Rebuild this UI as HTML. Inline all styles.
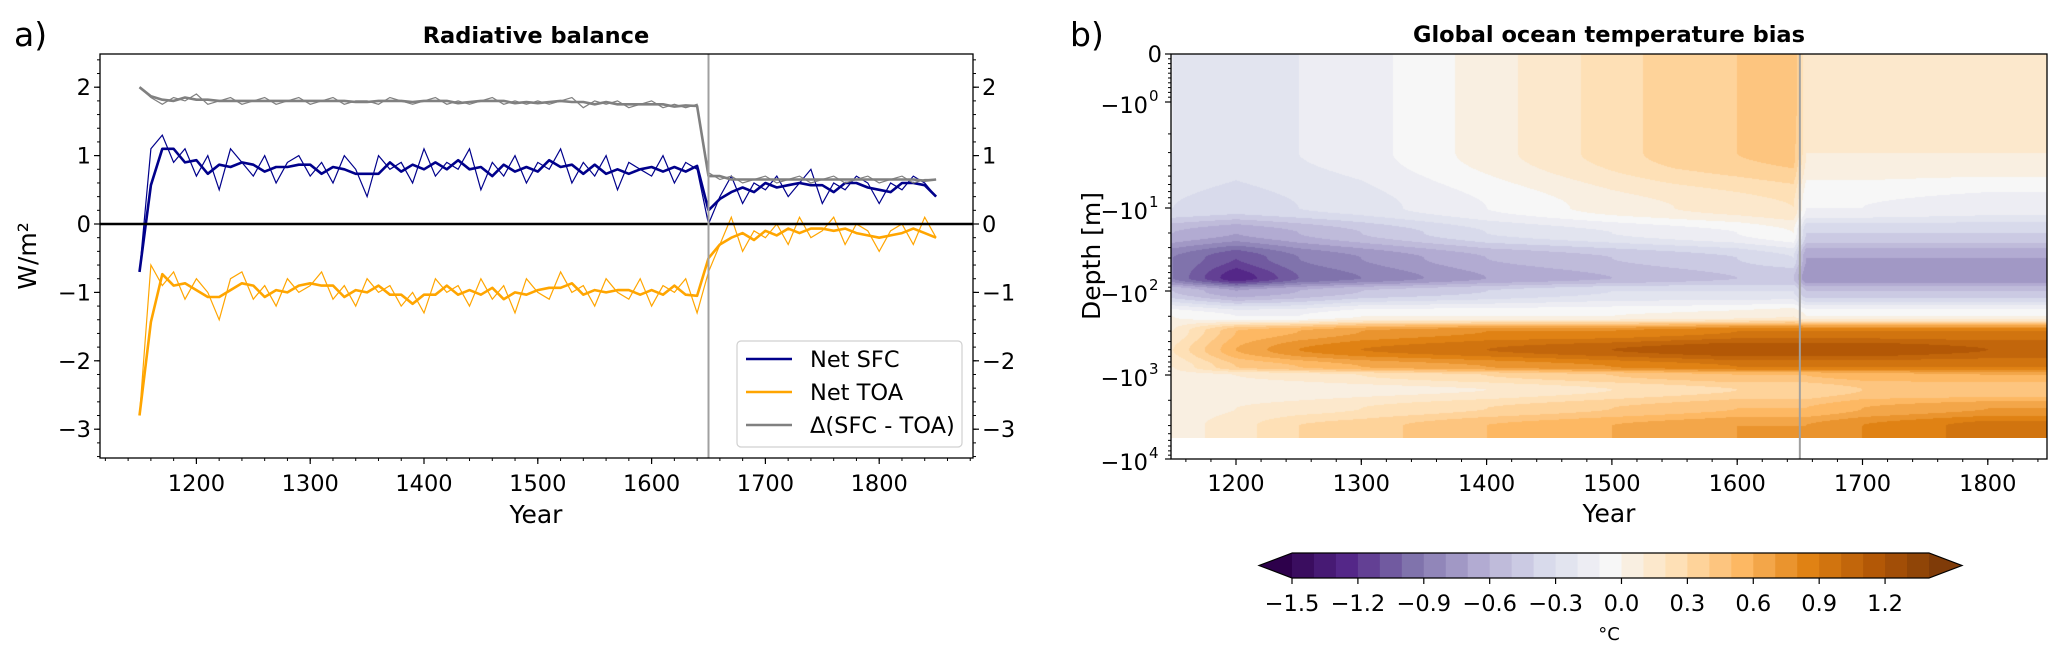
<!DOCTYPE html>
<html><head><meta charset="utf-8">
<style>
html,body{margin:0;padding:0;background:#fff;}
#wrap{position:relative;width:2067px;height:658px;overflow:hidden;font-family:"DejaVu Sans","Liberation Sans",sans-serif;}
svg{position:absolute;left:0;top:0;}
canvas{position:absolute;}
text{font-family:"DejaVu Sans","Liberation Sans",sans-serif;}
</style></head>
<body>
<div id="wrap">
<canvas id="heat"></canvas>
<svg id="svg" width="2067" height="658"></svg>
</div>
<script>
// ---------- Panel a data ----------
const years = [1150,1160,1170,1180,1190,1200,1210,1220,1230,1240,1250,1260,1270,1280,1290,1300,1310,1320,1330,1340,1350,1360,1370,1380,1390,1400,1410,1420,1430,1440,1450,1460,1470,1480,1490,1500,1510,1520,1530,1540,1550,1560,1570,1580,1590,1600,1610,1620,1630,1640,1650,1660,1670,1680,1690,1700,1710,1720,1730,1740,1750,1760,1770,1780,1790,1800,1810,1820,1830,1840,1850];
const netSFC = [-0.7,1.1,1.3,0.9,1.1,0.7,1.0,0.5,1.1,0.9,0.7,1.0,0.6,0.9,1.0,0.7,0.9,0.6,1.0,0.8,0.4,1.0,0.8,0.9,0.6,1.1,0.7,0.9,0.8,1.1,0.5,0.9,0.7,1.0,0.6,0.9,0.8,1.1,0.6,0.9,0.7,1.0,0.5,0.9,0.8,0.7,1.0,0.6,0.9,0.8,0.0,0.4,0.7,0.3,0.6,0.5,0.7,0.4,0.6,0.8,0.3,0.6,0.5,0.7,0.6,0.3,0.6,0.5,0.7,0.6,0.4];
const netTOA = [-2.8,-0.6,-0.9,-0.7,-1.1,-0.8,-1.0,-1.4,-0.8,-0.7,-1.1,-0.9,-1.2,-0.8,-1.0,-0.9,-0.7,-1.1,-0.9,-1.2,-0.8,-1.0,-0.9,-1.2,-1.0,-1.3,-0.8,-1.0,-0.9,-1.2,-0.8,-1.1,-0.9,-1.3,-0.8,-1.0,-1.1,-0.7,-1.0,-0.9,-1.2,-0.8,-1.0,-1.1,-0.8,-1.2,-0.9,-1.0,-0.8,-1.3,-0.7,-0.3,0.1,-0.4,-0.1,-0.2,0.0,-0.3,0.1,-0.2,-0.1,0.1,-0.3,0.0,-0.1,-0.4,-0.1,0.0,-0.3,0.1,-0.2];
const deltaST = [2.0,1.85,1.75,1.85,1.8,1.9,1.75,1.8,1.85,1.75,1.8,1.85,1.75,1.8,1.85,1.75,1.8,1.85,1.75,1.8,1.8,1.75,1.85,1.8,1.75,1.8,1.85,1.75,1.8,1.75,1.8,1.85,1.75,1.8,1.75,1.8,1.75,1.8,1.85,1.7,1.8,1.75,1.8,1.7,1.75,1.8,1.7,1.75,1.7,1.75,0.75,0.65,0.7,0.6,0.65,0.7,0.6,0.65,0.7,0.6,0.65,0.7,0.6,0.65,0.7,0.6,0.65,0.7,0.6,0.65,0.65];
const aYTicks = [-3,-2,-1,0,1,2];
const aXTicks = [1200,1300,1400,1500,1600,1700,1800];

// ---------- Panel b data ----------
const bYears = [1150,1200,1250,1300,1400,1500,1550,1600,1645,1655,1700,1800,1850];
const bDepths = [0.5,1,3,10,20,40,70,100,200,300,500,800,1000,1500,2500,4000,5600];
const bias = [
 [-0.2,-0.25,-0.2,-0.15,0.05,0.25,0.35,0.4,0.5,0.1,0.1,0.1,0.1],
 [-0.2,-0.25,-0.2,-0.15,0.05,0.25,0.35,0.4,0.5,0.1,0.1,0.1,0.1],
 [-0.2,-0.25,-0.2,-0.15,0.05,0.25,0.35,0.4,0.45,0.1,0.1,0.1,0.1],
 [-0.3,-0.35,-0.3,-0.25,-0.1,0.05,0.1,0.15,0.2,-0.1,-0.1,-0.15,-0.15],
 [-0.6,-0.7,-0.6,-0.5,-0.3,-0.2,-0.15,-0.1,0.0,-0.4,-0.4,-0.4,-0.4],
 [-0.9,-1.1,-0.9,-0.8,-0.6,-0.5,-0.45,-0.4,-0.3,-0.7,-0.7,-0.7,-0.7],
 [-0.9,-1.3,-1.0,-0.9,-0.7,-0.6,-0.55,-0.5,-0.5,-0.8,-0.8,-0.8,-0.8],
 [-0.5,-0.7,-0.6,-0.5,-0.4,-0.3,-0.3,-0.3,-0.3,-0.5,-0.5,-0.5,-0.5],
 [0.0,-0.1,-0.1,0.0,0.0,0.0,0.02,0.05,0.1,0.0,0.0,0.0,0.0],
 [0.1,0.5,0.6,0.7,0.8,0.8,0.85,0.9,0.9,0.9,0.9,0.9,0.9],
 [0.2,0.6,0.8,0.9,1.0,1.1,1.15,1.2,1.2,1.2,1.2,1.1,1.1],
 [0.1,0.4,0.5,0.6,0.7,0.8,0.85,0.9,0.9,0.9,0.9,0.9,0.9],
 [0.05,0.1,0.15,0.2,0.3,0.4,0.45,0.5,0.5,0.5,0.55,0.6,0.6],
 [0.0,0.0,0.02,0.05,0.1,0.2,0.25,0.3,0.3,0.3,0.4,0.4,0.4],
 [0.05,0.1,0.15,0.2,0.3,0.4,0.45,0.5,0.5,0.5,0.6,0.7,0.7],
 [0.05,0.15,0.3,0.35,0.5,0.6,0.65,0.7,0.7,0.7,0.8,0.95,0.95],
 [0.05,0.15,0.3,0.35,0.5,0.6,0.65,0.7,0.7,0.7,0.8,0.95,0.95]
];
const cbTicks = [-1.5,-1.2,-0.9,-0.6,-0.3,0.0,0.3,0.6,0.9,1.2];
const bXTicks = [1200,1300,1400,1500,1600,1700,1800];

const NS='http://www.w3.org/2000/svg';
const svg=document.getElementById('svg');
function el(tag,attrs,parent){const e=document.createElementNS(NS,tag);for(const k in attrs)e.setAttribute(k,attrs[k]);(parent||svg).appendChild(e);return e;}
function txt(s,x,y,attrs,parent){const t=el('text',Object.assign({x:x,y:y},attrs),parent);t.textContent=s;return t;}
const FS=22.5;

// ---------- Panel a ----------
const A={l:100,r:973,t:54,b:458};
const ax=y=>196.4+(y-1200)*1.138;
const ay=v=>224-v*68.4;
const gA=el('g',{});


const cp=el('clipPath',{id:'clipA'},gA);
el('rect',{x:A.l,y:A.t,width:A.r-A.l,height:A.b-A.t},cp);
function pathOf(arr){return arr.map((v,i)=>(i?'L':'M')+ax(years[i]).toFixed(1)+','+ay(v).toFixed(1)).join('');}
function smooth(arr){return arr.map((v,i)=>{if(i===0||i===arr.length-1)return v;if(i===50)return (arr[i]+arr[i+1])/2;if(i===49)return (arr[i-1]+arr[i])/2;return (arr[i-1]+arr[i]+arr[i+1])/3;});}
const series=[{d:netSFC,c:'#00008b',n:'net-sfc'},{d:netTOA,c:'#ffa500',n:'net-toa'},{d:deltaST,c:'#808080',n:'delta-sfc-toa'}];
const sg=el('g',{'clip-path':'url(#clipA)'},gA);
series.forEach(s=>{
  const p1=el('path',{d:pathOf(s.d),fill:'none',stroke:s.c,'stroke-width':1.2},sg);
  
  
  const p2=el('path',{d:pathOf(smooth(s.d)),fill:'none',stroke:s.c,'stroke-width':2.6,'stroke-linejoin':'round'},sg);
  
  
});
const zl=el('line',{x1:A.l,x2:A.r,y1:ay(0),y2:ay(0),stroke:'#000','stroke-width':2.5},gA);


const vl=el('line',{x1:ax(1650),x2:ax(1650),y1:A.t,y2:A.b,stroke:'#a0a0a0','stroke-width':2},gA);


el('rect',{x:A.l,y:A.t,width:A.r-A.l,height:A.b-A.t,fill:'none',stroke:'#000','stroke-width':1.3},gA);
for(let v=-3.4;v<=2.41;v+=0.2){const y=ay(v);if(y<A.t||y>A.b)continue;el('line',{x1:A.l-3,x2:A.l,y1:y,y2:y,stroke:'#000'},gA);el('line',{x1:A.r,x2:A.r+3,y1:y,y2:y,stroke:'#000'},gA);}
aYTicks.forEach(v=>{const y=ay(v);el('line',{x1:A.l-6,x2:A.l,y1:y,y2:y,stroke:'#000','stroke-width':1.2},gA);el('line',{x1:A.r,x2:A.r+6,y1:y,y2:y,stroke:'#000','stroke-width':1.2},gA);
 const lab=v<0?'\u2212'+Math.abs(v):String(v);
 const t1=txt(lab,A.l-9,y+8,{'font-size':FS,'text-anchor':'end'},gA);
 const t2=txt(lab,A.r+9,y+8,{'font-size':FS},gA);});
for(let yr=1120;yr<=1880;yr+=20){el('line',{x1:ax(yr),x2:ax(yr),y1:A.b,y2:A.b+3,stroke:'#000'},gA);}
aXTicks.forEach(yr=>{el('line',{x1:ax(yr),x2:ax(yr),y1:A.b,y2:A.b+6,stroke:'#000','stroke-width':1.2},gA);
 const t=txt(String(yr),ax(yr),A.b+33,{'font-size':FS,'text-anchor':'middle'},gA);});
let t;
t=txt('Year',536,523,{'font-size':25,'text-anchor':'middle'},gA);
t=txt('W/m²',0,0,{'font-size':25,'text-anchor':'middle',transform:'translate(36,256) rotate(-90)'},gA);
t=txt('Radiative balance',536,43,{'font-size':22.5,'font-weight':'bold','text-anchor':'middle'},gA);
t=txt('a)',14,46,{'font-size':33},gA);
// legend
const lg=el('g',{},gA);


el('rect',{x:737,y:341,width:225,height:106,rx:4,fill:'#fff','fill-opacity':0.85,stroke:'#d0d0d0','stroke-width':1.2},lg);
[['Net SFC','#00008b',359],['Net TOA','#ffa500',392],['Δ(SFC - TOA)','#808080',425]].forEach(e=>{
 const g=el('g',{},lg);
 el('line',{x1:746,x2:792,y1:e[2],y2:e[2],stroke:e[1],'stroke-width':2.6},g);
 txt(e[0],810,e[2]+8,{'font-size':FS},g);
});

// ---------- Panel b ----------
const B={l:1171,r:2047,t:54,b:459};
const bx=y=>1236+(y-1200)*1.253;
const decY=[[1,102],[10,208],[100,291],[1000,375],[10000,459]];
function by(d){if(d<=1)return 54+d*48;const L=Math.log10(d);const i=Math.min(3,Math.floor(L));return decY[i][1]+(L-i)*(decY[i+1][1]-decY[i][1]);}
const pu=['#2d004b','#542788','#8073ac','#b2abd2','#d8daeb','#f7f7f7','#fee0b6','#fdb863','#e08214','#b35806','#7f3b08'];
function hex(h){return [1,3,5].map(i=>parseInt(h.substr(i,2),16));}
const puRGB=pu.map(hex);
function cmap(f){f=Math.max(0,Math.min(1,f))*10;const i=Math.min(9,Math.floor(f)),r=f-i;return puRGB[i].map((c,k)=>Math.round(c+(puRGB[i+1][k]-c)*r));}
const NB=31;
const bandCol=[];for(let i=0;i<NB;i++)bandCol.push(cmap(i/(NB-1)));
function bandOf(v){let k=Math.floor((v+1.5)/0.1+1e-9);k=Math.max(-1,Math.min(29,k));return bandCol[k+1];}
const cv=document.getElementById('heat');
const dataBottom=by(5600);
cv.style.left=B.l+'px';cv.style.top=B.t+'px';cv.width=B.r-B.l;cv.height=Math.round(dataBottom-B.t);
const ctx=cv.getContext('2d');const img=ctx.createImageData(cv.width,cv.height);
const rowY=bDepths.map(by);
for(let py=0;py<cv.height;py++){
 const Y=B.t+py+0.5;let j=0;while(j<rowY.length-2&&rowY[j+1]<Y)j++;
 let ry=(Y-rowY[j])/(rowY[j+1]-rowY[j]);ry=Math.max(0,Math.min(1,ry));
 ry=ry*ry*(3-2*ry);
 for(let px=0;px<cv.width;px++){
  const yr=1200+(B.l+px+0.5-1236)/1.253;let i=0;while(i<bYears.length-2&&bYears[i+1]<yr)i++;
  let rx=(yr-bYears[i])/(bYears[i+1]-bYears[i]);rx=Math.max(0,Math.min(1,rx));
  const v=(bias[j][i]*(1-rx)+bias[j][i+1]*rx)*(1-ry)+(bias[j+1][i]*(1-rx)+bias[j+1][i+1]*rx)*ry;
  const c=bandOf(v);const o=(py*cv.width+px)*4;img.data[o]=c[0];img.data[o+1]=c[1];img.data[o+2]=c[2];img.data[o+3]=255;
 }
}
ctx.putImageData(img,0,0);
const gB=el('g',{});


const vl2=el('line',{x1:bx(1650),x2:bx(1650),y1:B.t,y2:B.b,stroke:'#a0a0a0','stroke-width':2},gB);


el('rect',{x:B.l,y:B.t,width:B.r-B.l,height:B.b-B.t,fill:'none',stroke:'#000','stroke-width':1.3},gB);
for(let d=0.1;d<1;d+=0.1){const y=by(d);el('line',{x1:B.l-3,x2:B.l,y1:y,y2:y,stroke:'#000'},gB);}
for(let e=0;e<4;e++)for(let m=2;m<10;m++){const y=by(m*Math.pow(10,e));el('line',{x1:B.l-3,x2:B.l,y1:y,y2:y,stroke:'#000'},gB);}
const yl=[['0',0],['\u221210','0'],['\u221210','1'],['\u221210','2'],['\u221210','3'],['\u221210','4']];
[54,102,208,291,375,459].forEach((y,i)=>{el('line',{x1:B.l-6,x2:B.l,y1:y,y2:y,stroke:'#000','stroke-width':1.2},gB);
 const tt=txt(yl[i][0],B.l-(i?23:9),y+(i?11:8),{'font-size':FS,'text-anchor':'end'},gB);
 
 if(i){const s=txt(yl[i][1],B.l-22,y-1,{'font-size':15},gB);}
});
for(let yr=1160;yr<=1840;yr+=20){el('line',{x1:bx(yr),x2:bx(yr),y1:B.b,y2:B.b+3,stroke:'#000'},gB);}
bXTicks.forEach(yr=>{el('line',{x1:bx(yr),x2:bx(yr),y1:B.b,y2:B.b+6,stroke:'#000','stroke-width':1.2},gB);
 const tt=txt(String(yr),bx(yr),B.b+32,{'font-size':FS,'text-anchor':'middle'},gB);});
t=txt('Year',1609,522,{'font-size':25,'text-anchor':'middle'},gB);
t=txt('Depth [m]',0,0,{'font-size':25,'text-anchor':'middle',transform:'translate(1100,256) rotate(-90)'},gB);
t=txt('Global ocean temperature bias',1609,42,{'font-size':22.5,'font-weight':'bold','text-anchor':'middle'},gB);
t=txt('b)',1070,46,{'font-size':33},gB);
// colorbar
const cb=el('g',{});


const cL=1292,cR=1929,cT=553,cBt=578,bw=(cR-cL)/29;
const cx=v=>cL+(v+1.5)/0.1*bw;
const rgb=c=>'rgb('+c.join(',')+')';
for(let k=0;k<29;k++){const r=el('rect',{x:cL+k*bw,y:cT,width:bw+0.6,height:cBt-cT,fill:rgb(bandCol[k+1])},cb);}
el('polygon',{points:`${cL},${cT} ${cL-33},${(cT+cBt)/2} ${cL},${cBt}`,fill:rgb(bandCol[0])},cb);
el('polygon',{points:`${cR},${cT} ${cR+33},${(cT+cBt)/2} ${cR},${cBt}`,fill:rgb(bandCol[30])},cb);
el('polygon',{points:`${cL},${cT} ${cL-33},${(cT+cBt)/2} ${cL},${cBt} ${cR},${cBt} ${cR+33},${(cT+cBt)/2} ${cR},${cT}`,fill:'none',stroke:'#000','stroke-width':1.2},cb);
cbTicks.forEach(v=>{const x=cx(v);el('line',{x1:x,x2:x,y1:cBt,y2:cBt+6,stroke:'#000','stroke-width':1.2},cb);
 const lab=(v<0?'\u2212':'')+Math.abs(v).toFixed(1);
 const tt=txt(lab,x,cBt+33,{'font-size':FS,'text-anchor':'middle'},cb);});
t=txt('°C',1609,640,{'font-size':18,'text-anchor':'middle'},cb);
</script>
</body></html>
